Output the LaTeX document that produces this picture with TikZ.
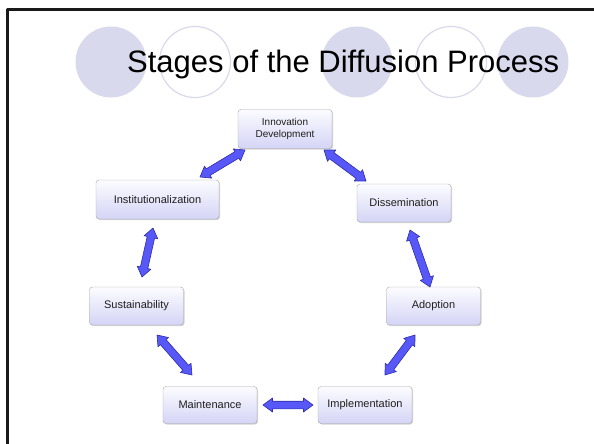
\documentclass[tikz,border=0pt]{standalone}
\usepackage{fontspec}
\setmainfont{Liberation Sans}
\usetikzlibrary{calc,shadows}

\definecolor{lav}{RGB}{217,217,237}
\definecolor{arrblue}{RGB}{88,88,248}
\definecolor{arredge}{RGB}{45,45,170}
\definecolor{boxtop}{RGB}{252,252,255}
\definecolor{boxbot}{RGB}{212,212,246}

% block arrow with a head at both ends, from #1 to #2
\newcommand{\biarrow}[2]{%
  \filldraw[biarrowstyle]
  (#1) -- ($(#1)!9.5pt!(#2)!7pt!90:(#2)$)
  -- ($(#1)!9.5pt!(#2)!3.8pt!90:(#2)$)
  -- ($(#2)!9.5pt!(#1)!3.8pt!-90:(#1)$)
  -- ($(#2)!9.5pt!(#1)!7pt!-90:(#1)$)
  -- (#2)
  -- ($(#2)!9.5pt!(#1)!7pt!90:(#1)$)
  -- ($(#2)!9.5pt!(#1)!3.8pt!90:(#1)$)
  -- ($(#1)!9.5pt!(#2)!3.8pt!-90:(#2)$)
  -- ($(#1)!9.5pt!(#2)!7pt!-90:(#2)$)
  -- cycle;}

\begin{document}
\begin{tikzpicture}[x=1pt,y=-1pt
  ,line join=round]
  \tikzstyle{stage}
  =[rectangle,rounded corners=3pt,draw=black!35,
    top color=boxtop,bottom color=boxbot,
    drop shadow={shadow xshift=1pt,shadow yshift=-1pt,opacity=0.35},
    text=black!88,font=\fontsize{11}{12}\selectfont,
    minimum width=94,minimum height=38,inner sep=0pt,align=center]
  \tikzstyle{biarrowstyle}=[fill=arrblue,draw=arredge,line width=0.6pt]

  \useasboundingbox (0,0) rectangle (594,444);

  % slide frame
  \draw[line width=2.5pt,black!90] (7.5,444) -- (7.5,9.5) -- (594,9.5);

  % circles behind the title
  \fill[lav] (111,62) circle (35.5);
  \draw[lav,line width=1.2pt] (195,62) circle (35.5);
  \fill[lav] (357,62) circle (35.5);
  \draw[lav,line width=1.2pt] (451,62) circle (35.5);
  \fill[lav] (533,62) circle (35.5);

  \node[anchor=base west,inner sep=0pt,font=\fontsize{31}{34}\selectfont]
    (title) at (127,72) {Stages of the Diffusion Process};

  % stages
  \node[stage,font=\fontsize{10}{12}\selectfont,minimum height=39]
    (inno) at (285,129) {Innovation\\Development};
  \node[stage] (diss) at (404,203) {Dissemination};
  \node[stage] (adop) at (433.5,306) {Adoption};
  \node[stage,minimum height=37] (impl) at (365,405) {Implementation};
  \node[stage,minimum height=37] (main) at (210,405) {Maintenance};
  \node[stage] (sust) at (136.5,306) {Sustainability};
  \node[stage,minimum width=123,minimum height=39]
    (inst) at (157.5,199.5) {Institutionalization};

  % arrow ends
  \coordinate (inno-w) at (245,150);
  \coordinate (inst-n) at (200,177);
  \coordinate (inno-e) at (324,150);
  \coordinate (diss-n) at (366,181);
  \coordinate (diss-s) at (410,230);
  \coordinate (adop-n) at (430,287);
  \coordinate (adop-s) at (415,335);
  \coordinate (impl-n) at (385,375);
  \coordinate (impl-w) at (313,405);
  \coordinate (main-e) at (263,405);
  \coordinate (main-n) at (192,375);
  \coordinate (sust-s) at (157,335);
  \coordinate (sust-n) at (142,277);
  \coordinate (inst-s) at (153,228);

  \biarrow{inno-w}{inst-n}
  \biarrow{inno-e}{diss-n}
  \biarrow{diss-s}{adop-n}
  \biarrow{adop-s}{impl-n}
  \biarrow{impl-w}{main-e}
  \biarrow{main-n}{sust-s}
  \biarrow{sust-n}{inst-s}

\end{tikzpicture}
\end{document}
